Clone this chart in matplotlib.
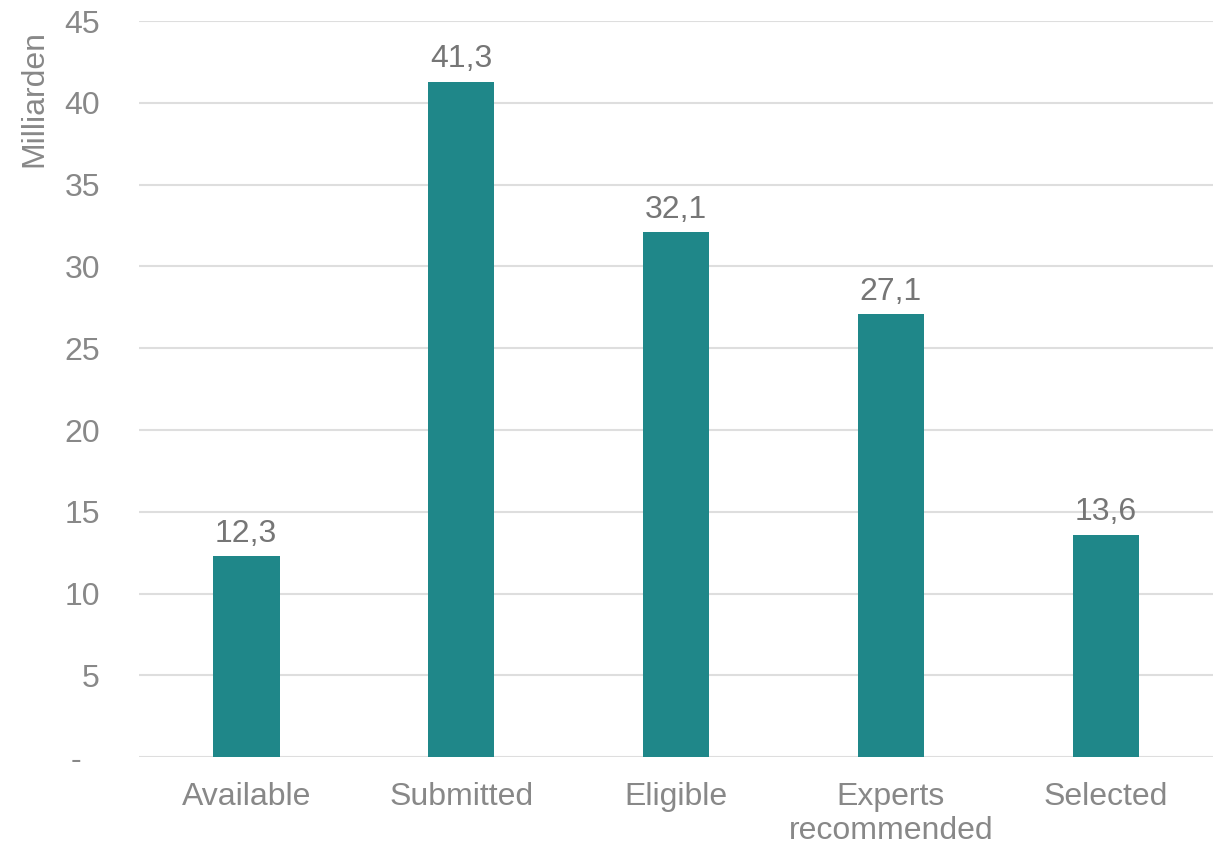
import matplotlib.pyplot as plt

categories = ["Available", "Submitted", "Eligible", "Experts\nrecommended", "Selected"]
values = [12.3, 41.3, 32.1, 27.1, 13.6]
yticks = [0, 5, 10, 15, 20, 25, 30, 35, 40, 45]
ytick_labels = ["-  ", "5", "10", "15", "20", "25", "30", "35", "40", "45"]

bar_color = "#1F8789"
text_color = "#888888"
label_color = "#767676"
grid_color = "#DEDEDE"

plt.rcParams["font.family"] = ["Liberation Sans", "DejaVu Sans"]

fig = plt.figure(figsize=(12.17, 8.46), dpi=100)
ax = fig.add_axes([0.114, 0.105, 0.883, 0.870])

x = list(range(len(categories)))
bars = ax.bar(x, values, width=0.31, color=bar_color, zorder=3)

for b, v in zip(bars, values):
    ax.text(b.get_x() + b.get_width() / 2, v + 0.45, f"{v:.1f}".replace(".", ","),
            ha="center", va="bottom", fontsize=23, color=label_color)

ax.set_xlim(-0.5, len(categories) - 0.5)
ax.set_ylim(0, 45)
ax.set_yticks(yticks)
ax.set_yticklabels(ytick_labels)
ax.set_xticks(x)
ax.set_xticklabels(categories, linespacing=1.15)

ax.grid(axis="y", color=grid_color, linewidth=1.5, zorder=0)
for s in ax.spines.values():
    s.set_visible(False)
ax.tick_params(axis="both", length=0, labelsize=23, labelcolor=text_color)
ax.tick_params(axis="y", pad=28)
ax.tick_params(axis="x", pad=18)
ax.set_ylabel("Milliarden", fontsize=23, color=text_color)
ax.yaxis.set_label_coords(-0.083, 0.895)

fig.savefig("out.png", dpi=100)
